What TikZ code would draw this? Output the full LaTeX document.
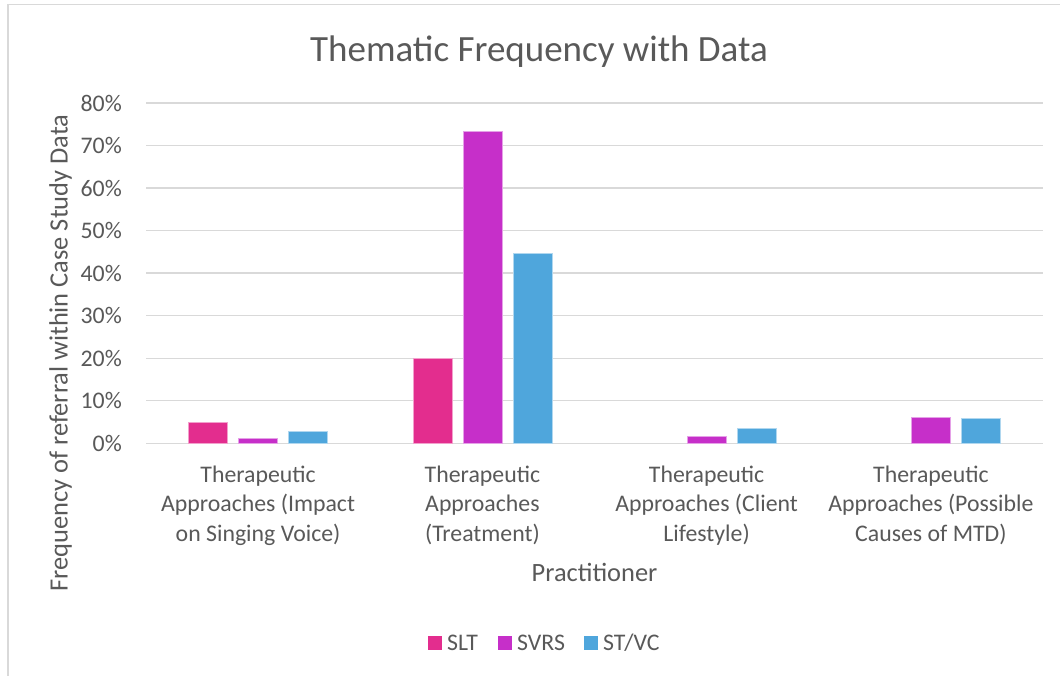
\documentclass[tikz,border=0pt]{standalone}
\usepackage{fontspec}
\setmainfont{Carlito}
\definecolor{txt}{HTML}{595959}
\definecolor{grid}{HTML}{D9D9D9}
\definecolor{cSLT}{RGB}{227,45,142}
\definecolor{cSVRS}{RGB}{198,47,201}
\definecolor{cSTVC}{RGB}{79,166,220}
\tikzset{
  lbl/.style={text=txt, inner sep=0pt, font=\fontsize{23.8}{29.5}\selectfont},
  axtitle/.style={text=txt, inner sep=0pt, font=\fontsize{26.4}{32}\selectfont},
  gridline/.style={draw=grid, line width=1.3pt},
  barSLT/.style={fill=cSLT, draw=cSLT!45!white, line width=0.8pt},
  barSVRS/.style={fill=cSVRS, draw=cSVRS!45!white, line width=0.8pt},
  barSTVC/.style={fill=cSTVC, draw=cSTVC!45!white, line width=0.8pt},
}
% pixel-like units: origin top left, y grows downward
\newcommand{\yzero}{443.3}
\newcommand{\ystep}{4.254}
% one bar: style, centre x, value in percent
\newcommand{\drawbar}[3]{%
  \path[#1] ({#2-19.5},\yzero) rectangle ({#2+19.5},{\yzero-#3*\ystep});
}
\begin{document}
\begin{tikzpicture}[x=1pt, y=-1pt]
\useasboundingbox (0,0) rectangle (1060,676);
\fill[white] (0,0) rectangle (1060,676);
% chart frame
\draw[draw=grid, line width=1.6pt] (1062,4.5) -- (8,4.5) -- (8,678);

% title
\node[text=txt, inner sep=0pt, font=\fontsize{37}{44}\selectfont, anchor=base] (title) at (539,62) {Thematic Frequency with Data};

% gridlines and tick labels
\foreach \v in {0,10,...,80}{
  \coordinate (gl\v) at (146,{\yzero-\v*\ystep});
  \coordinate (gr\v) at (1043,{\yzero-\v*\ystep});
  \draw[gridline] (gl\v) -- (gr\v);
  \node[lbl, anchor=east] (tick\v) at (122,{\yzero-\v*\ystep}) {\v\%};
}

% bars: group centres at 146 + 224.25*(i+0.5), width 39, pitch 50
\foreach \c/\a/\b/\d in {258.1/5/1.25/2.7, 482.4/20/73.3/44.75, 706.6/0/1.55/3.5, 930.9/0/6.1/5.95}{
  \ifdim \a pt>0pt \drawbar{barSLT}{\c-50}{\a}\fi
  \drawbar{barSVRS}{\c}{\b}
  \drawbar{barSTVC}{\c+50}{\d}
}

% category labels (anchored at the baseline of their last line)
\node[lbl, anchor=base, align=center] (cat1) at (258.1,541) {Therapeutic\\Approaches (Impact\\on Singing Voice)};
\node[lbl, anchor=base, align=center] (cat2) at (482.4,541) {Therapeutic\\Approaches\\(Treatment)};
\node[lbl, anchor=base, align=center] (cat3) at (706.6,541) {Therapeutic\\Approaches (Client\\Lifestyle)};
\node[lbl, anchor=base, align=center] (cat4) at (930.9,541) {Therapeutic\\Approaches (Possible\\Causes of MTD)};

% axis titles
\node[axtitle, anchor=base] (xtitle) at (594.5,581.5) {Practitioner};
\node[axtitle, anchor=base, rotate=90] (ytitle) at (67.5,353) {Frequency of referral within Case Study Data};

% legend
\fill[cSLT] (428,636) rectangle (442,650);
\node[lbl, anchor=base west] (legSLT) at (447,650) {SLT};
\fill[cSVRS] (498,636) rectangle (512,650);
\node[lbl, anchor=base west] (legSVRS) at (517,650) {SVRS};
\fill[cSTVC] (584,636) rectangle (598,650);
\node[lbl, anchor=base west] (legSTVC) at (603,650) {ST/VC};
\end{tikzpicture}
\end{document}
